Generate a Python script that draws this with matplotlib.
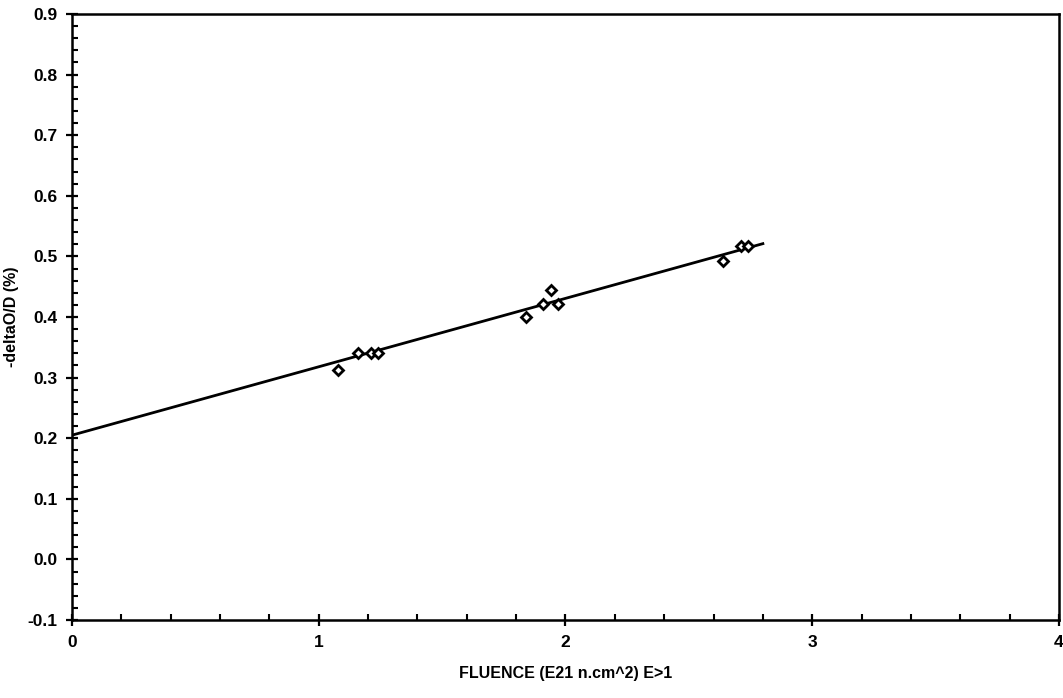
import matplotlib
matplotlib.use("Agg")
import matplotlib.pyplot as plt
from matplotlib.ticker import MultipleLocator, FormatStrFormatter

plt.rcParams["font.family"] = ["Liberation Sans Narrow", "Liberation Sans", "DejaVu Sans"]
plt.rcParams["font.weight"] = "bold"

# measured points
fluence = [1.08, 1.16, 1.21, 1.24, 1.84, 1.91, 1.94, 1.97, 2.64, 2.71, 2.74]
delta = [0.312, 0.341, 0.341, 0.341, 0.400, 0.421, 0.445, 0.421, 0.492, 0.517, 0.517]

# fitted line end points
fit_x = [0.0, 2.80]
fit_y = [0.205, 0.521]

fig = plt.figure(figsize=(10.63, 6.98), dpi=100)
ax = fig.add_axes([0.0677, 0.1117, 0.9285, 0.8683])

ax.plot(fit_x, fit_y, color="black", linewidth=2.0, zorder=2)
ax.plot(fluence, delta, linestyle="none", marker="D", markersize=5.5,
        markerfacecolor="white", markeredgecolor="black", markeredgewidth=2.0, zorder=3)

ax.set_xlim(0, 4)
ax.set_ylim(-0.1, 0.9)
ax.xaxis.set_major_locator(MultipleLocator(1))
ax.xaxis.set_minor_locator(MultipleLocator(0.2))
ax.yaxis.set_major_locator(MultipleLocator(0.1))
ax.yaxis.set_minor_locator(MultipleLocator(0.02))
ax.yaxis.set_major_formatter(FormatStrFormatter("%.1f"))

ax.tick_params(which="major", direction="inout", length=9, width=1.6,
               labelsize=12.5, pad=6, top=False, right=False)
ax.tick_params(which="minor", direction="in", length=4, width=1.5,
               top=False, right=False)
for lab in ax.get_xticklabels() + ax.get_yticklabels():
    lab.set_fontweight("bold")

for sp in ax.spines.values():
    sp.set_linewidth(1.8)

ax.set_xlabel("FLUENCE (E21 n.cm^2) E>1", fontsize=11.5, fontweight="bold", labelpad=12)
ax.set_ylabel("-deltaO/D (%)", fontsize=11.5, fontweight="bold", labelpad=6)

fig.savefig("out.png", dpi=100)
plt.close(fig)
